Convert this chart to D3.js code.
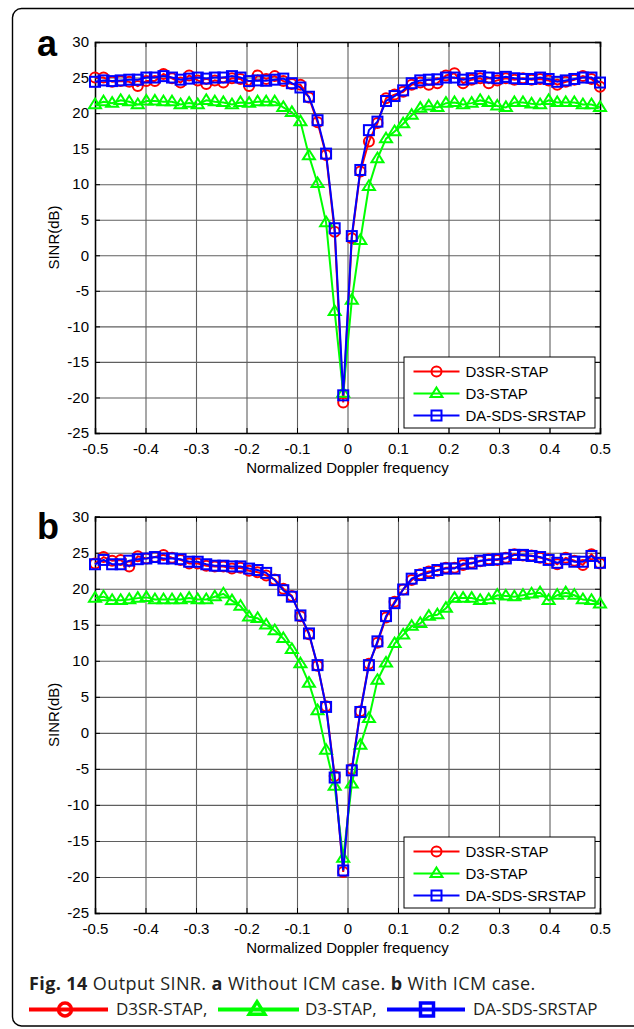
<!DOCTYPE html>
<html>
<head>
<meta charset="utf-8">
<script src="https://cdn.jsdelivr.net/npm/d3@7"></script>
<style>
  body { margin: 0; background: #fff; }
  svg { display: block; }
  .tick text { font-family: "Liberation Sans", Arial, sans-serif; font-size: 15px; fill: #000; }
</style>
</head>
<body>
<div id="chart"></div>
<script>
// normalized Doppler frequency grid (60 points from -0.5 to 0.5)
const freq = [-0.5, -0.4831, -0.4661, -0.4492, -0.4322, -0.4153, -0.3983, -0.3814, -0.3644, -0.3475,
  -0.3305, -0.3136, -0.2966, -0.2797, -0.2627, -0.2458, -0.2288, -0.2119, -0.1949, -0.178,
  -0.161, -0.1441, -0.1271, -0.1102, -0.0932, -0.0763, -0.0593, -0.0424, -0.0254, -0.0085,
  0.0085, 0.0254, 0.0424, 0.0593, 0.0763, 0.0932, 0.1102, 0.1271, 0.1441, 0.161,
  0.178, 0.1949, 0.2119, 0.2288, 0.2458, 0.2627, 0.2797, 0.2966, 0.3136, 0.3305,
  0.3475, 0.3644, 0.3814, 0.3983, 0.4153, 0.4322, 0.4492, 0.4661, 0.4831, 0.5];

// panel a: without ICM
const sinrA_d3sr = [25.0, 25.0, 24.4, 24.5, 24.4, 23.8, 24.5, 24.5, 25.5, 24.9,
  24.3, 25.3, 24.6, 24.1, 24.6, 24.3, 24.9, 24.8, 23.8, 25.3,
  24.8, 25.2, 24.5, 24.1, 24.0, 22.2, 18.7, 14.1, 3.3, -20.7,
  2.4, 11.8, 16.0, 18.6, 22.1, 22.6, 23.0, 24.0, 24.3, 24.0,
  24.2, 25.3, 25.6, 24.2, 24.7, 24.9, 24.2, 24.6, 24.9, 24.7,
  24.9, 24.7, 24.8, 24.6, 24.0, 24.4, 24.7, 25.2, 24.8, 23.7];
const sinrA_d3 = [21.2, 21.6, 21.4, 21.8, 21.6, 21.2, 21.7, 21.7, 21.6, 21.6,
  21.2, 21.4, 21.2, 21.8, 21.6, 21.5, 21.2, 21.5, 21.4, 21.6,
  21.6, 21.6, 20.8, 20.1, 18.8, 14.0, 10.1, 4.6, -7.9, -19.4,
  -6.3, 2.1, 9.7, 13.6, 16.4, 17.4, 18.5, 19.7, 20.7, 21.0,
  20.8, 21.4, 21.5, 21.2, 21.4, 21.8, 21.5, 21.0, 20.8, 21.5,
  21.5, 21.3, 21.2, 21.8, 21.5, 21.5, 21.5, 21.2, 21.2, 20.8];
const sinrA_dasds = [24.4, 24.6, 24.5, 24.6, 24.7, 24.7, 25.0, 25.0, 25.2, 25.0,
  24.7, 24.85, 25.0, 24.85, 25.0, 25.0, 25.2, 25.0, 24.5, 24.6,
  24.55, 24.7, 24.85, 24.2, 23.6, 22.3, 19.0, 14.3, 3.8, -19.7,
  2.7, 12.0, 17.6, 18.8, 21.7, 22.4, 23.2, 24.2, 24.6, 24.7,
  24.75, 25.0, 25.0, 24.7, 24.9, 25.2, 25.0, 24.9, 25.1, 24.9,
  24.8, 24.8, 25.0, 24.8, 24.4, 24.6, 24.8, 25.0, 25.0, 24.3];

// panel b: with ICM
const sinrB_d3sr = [23.5, 24.4, 23.9, 24.0, 23.1, 24.5, 24.2, 24.4, 24.7, 24.3,
  24.0, 23.5, 23.5, 23.2, 23.1, 23.1, 22.8, 22.9, 22.5, 22.3,
  21.85, 21.3, 20.0, 19.0, 16.2, 13.7, 9.3, 3.7, -6.0, -19.3,
  -5.0, 3.0, 9.6, 12.5, 16.0, 18.2, 19.9, 21.2, 22.0, 22.4,
  22.5, 22.9, 22.9, 23.3, 23.6, 23.8, 24.1, 24.0, 24.3, 24.8,
  24.6, 24.6, 24.3, 24.1, 23.4, 24.3, 23.9, 23.3, 24.8, 23.5];
const sinrB_d3 = [18.7, 18.9, 18.4, 18.4, 18.5, 18.7, 18.8, 18.5, 18.5, 18.5,
  18.5, 18.7, 18.5, 18.5, 18.9, 19.3, 18.35, 17.6, 16.1, 15.9,
  15.0, 14.2, 13.1, 11.6, 9.6, 6.9, 3.1, -2.4, -7.4, -17.4,
  -7.1, -1.7, 2.0, 7.3, 9.7, 12.4, 13.6, 14.8, 15.2, 16.2,
  16.4, 17.3, 18.7, 18.7, 18.7, 18.4, 18.5, 19.1, 19.0, 18.9,
  19.1, 19.3, 19.45, 18.4, 19.1, 19.45, 19.1, 18.5, 18.4, 17.9];
const sinrB_dasds = [23.4, 24.0, 23.4, 23.4, 23.9, 24.1, 24.2, 24.4, 24.2, 24.2,
  24.1, 23.75, 23.75, 23.4, 23.2, 23.2, 23.1, 23.1, 22.8, 22.6,
  22.2, 21.2, 19.8, 18.9, 16.3, 13.8, 9.4, 3.6, -6.2, -19.1,
  -5.2, 2.9, 9.4, 12.7, 16.2, 18.0, 19.9, 21.4, 21.9, 22.2,
  22.6, 22.8, 22.8, 23.5, 23.5, 23.9, 24.0, 24.1, 24.2, 24.7,
  24.7, 24.55, 24.4, 24.0, 23.6, 24.1, 23.75, 23.75, 24.55, 23.6];

const seriesNames = ['D3SR-STAP', 'D3-STAP', 'DA-SDS-SRSTAP'];
const seriesColors = ['#ff0000', '#00ff00', '#0000ff'];
const seriesMarkers = ['circle', 'triangle', 'square'];
const xTicks = [-0.5, -0.4, -0.3, -0.2, -0.1, 0, 0.1, 0.2, 0.3, 0.4, 0.5];
const yTicks = [-25, -20, -15, -10, -5, 0, 5, 10, 15, 20, 25, 30];

const svg = d3.select('#chart').append('svg')
  .attr('width', 634)
  .attr('height', 1029);

// outer frame
svg.append('rect')
  .attr('x', 12.5).attr('y', 8.5)
  .attr('width', 640).attr('height', 1017.5)
  .attr('rx', 9)
  .attr('fill', 'none')
  .attr('stroke', '#000')
  .attr('stroke-width', 1.4);

function marker(sel, type, color, s, sw) {
  if (type === 'circle') {
    sel.append('circle').attr('r', s * 0.5)
      .attr('fill', 'none').attr('stroke', color).attr('stroke-width', sw);
  } else if (type === 'square') {
    sel.append('rect').attr('x', -s / 2).attr('y', -s / 2)
      .attr('width', s).attr('height', s)
      .attr('fill', 'none').attr('stroke', color).attr('stroke-width', sw);
  } else {
    const t = s * 0.6;
    sel.append('path').attr('d', `M0,${-t}L${t},${t * 0.6}L${-t},${t * 0.6}Z`)
      .attr('fill', 'none').attr('stroke', color).attr('stroke-width', sw)
      .attr('stroke-linejoin', 'miter');
  }
}

function drawPanel(cfg) {
  const w = 505, h = cfg.height;
  const g = svg.append('g').attr('transform', `translate(95,${cfg.top})`);

  const x = d3.scaleLinear().domain([-0.5, 0.5]).range([0, w]);
  const y = d3.scaleLinear().domain([-25, 30]).range([h, 0]);

  // grid
  g.append('g')
    .attr('transform', `translate(0,${h})`)
    .call(d3.axisBottom(x).tickValues(xTicks).tickSize(-h).tickFormat(''))
    .call(a => a.select('.domain').remove())
    .call(a => a.selectAll('line').attr('stroke', '#5f5f5f').attr('stroke-width', 1.1));
  g.append('g')
    .call(d3.axisLeft(y).tickValues(yTicks).tickSize(-w).tickFormat(''))
    .call(a => a.select('.domain').remove())
    .call(a => a.selectAll('line').attr('stroke', '#5f5f5f').attr('stroke-width', 1.1));

  // axes with inward ticks
  g.append('g')
    .attr('transform', `translate(0,${h})`)
    .call(d3.axisBottom(x).tickValues(xTicks).tickSize(-5).tickPadding(10).tickFormat(d => String(d)));
  g.append('g')
    .call(d3.axisLeft(y).tickValues(yTicks).tickSize(-5).tickPadding(6).tickFormat(d => String(d)));
  g.append('g')
    .call(d3.axisTop(x).tickValues(xTicks).tickSize(-5).tickFormat(''));
  g.append('g')
    .attr('transform', `translate(${w},0)`)
    .call(d3.axisRight(y).tickValues(yTicks).tickSize(-5).tickFormat(''));
  g.selectAll('.domain').attr('stroke', '#000').attr('stroke-width', 1.5);
  g.selectAll('.tick line').filter(function () { return this.getAttribute('stroke') === 'currentColor'; })
    .attr('stroke', '#000');

  // series
  const line = d3.line().x((d, i) => x(freq[i])).y(d => y(d));
  cfg.series.forEach((vals, si) => {
    const sg = g.append('g');
    sg.append('path')
      .datum(vals)
      .attr('d', line)
      .attr('fill', 'none')
      .attr('stroke', seriesColors[si])
      .attr('stroke-width', 2);
    sg.selectAll('g.pt')
      .data(vals)
      .enter().append('g')
      .attr('class', 'pt')
      .attr('transform', (d, i) => `translate(${x(freq[i])},${y(d)})`)
      .each(function () { marker(d3.select(this), seriesMarkers[si], seriesColors[si], 10, 2); });
  });

  // legend
  const lx = w - 196, ly = h - 76;
  const lg = g.append('g').attr('transform', `translate(${lx},${ly})`);
  lg.append('rect').attr('width', 191).attr('height', 71)
    .attr('fill', '#fff').attr('stroke', '#000').attr('stroke-width', 1);
  seriesNames.forEach((name, i) => {
    const ry = 14.5 + 22 * i;
    lg.append('line').attr('x1', 9.5).attr('x2', 55.5).attr('y1', ry).attr('y2', ry)
      .attr('stroke', seriesColors[i]).attr('stroke-width', 2);
    marker(lg.append('g').attr('transform', `translate(32.5,${ry})`), seriesMarkers[i], seriesColors[i], 10, 2);
    lg.append('text').attr('x', 61.5).attr('y', ry).attr('dy', '0.35em')
      .attr('font-family', '"Liberation Sans", Arial, sans-serif')
      .attr('font-size', 15)
      .text(name);
  });

  // axis titles
  g.append('text')
    .attr('x', w / 2).attr('y', h + 40)
    .attr('text-anchor', 'middle')
    .attr('font-family', '"Liberation Sans", Arial, sans-serif')
    .attr('font-size', 15)
    .text('Normalized Doppler frequency');
  g.append('text')
    .attr('transform', `translate(-36,${h / 2}) rotate(-90)`)
    .attr('text-anchor', 'middle')
    .attr('font-family', '"Liberation Sans", Arial, sans-serif')
    .attr('font-size', 15)
    .text('SINR(dB)');

  // panel letter
  svg.append('text')
    .attr('x', 37).attr('y', cfg.letterY)
    .attr('font-family', '"Liberation Sans", Arial, sans-serif')
    .attr('font-weight', 'bold')
    .attr('font-size', 36)
    .text(cfg.letter);
}

drawPanel({ top: 42, height: 391, letter: 'a', letterY: 56,
  series: [sinrA_d3sr, sinrA_d3, sinrA_dasds] });
drawPanel({ top: 516.7, height: 396.3, letter: 'b', letterY: 539,
  series: [sinrB_d3sr, sinrB_d3, sinrB_dasds] });

// caption
const capFont = '"Open Sans", "Noto Sans", sans-serif';
const cap = svg.append('text')
  .attr('x', 29).attr('y', 990)
  .attr('font-family', capFont)
  .attr('font-size', 18)
  .attr('letter-spacing', 0.4)
  .attr('fill', '#231f20');
cap.append('tspan').attr('font-weight', 'bold').text('Fig. 14');
cap.append('tspan').text(' Output SINR. ');
cap.append('tspan').attr('font-weight', 'bold').text('a');
cap.append('tspan').text(' Without ICM case. ');
cap.append('tspan').attr('font-weight', 'bold').text('b');
cap.append('tspan').text(' With ICM case.');

// caption legend line
const capKeys = [
  { x1: 29, x2: 108, mx: 65, tx: 116, label: 'D3SR-STAP,' },
  { x1: 218, x2: 299, mx: 257, tx: 305, label: 'D3-STAP,' },
  { x1: 387, x2: 465, mx: 427, tx: 473, label: 'DA-SDS-SRSTAP' }
];
capKeys.forEach((k, i) => {
  svg.append('line').attr('x1', k.x1).attr('x2', k.x2).attr('y1', 1009.5).attr('y2', 1009.5)
    .attr('stroke', seriesColors[i]).attr('stroke-width', 4);
  marker(svg.append('g').attr('transform', `translate(${k.mx},1009.5)`), seriesMarkers[i], seriesColors[i], 13, 3.5);
  svg.append('text').attr('x', k.tx).attr('y', 1015)
    .attr('font-family', capFont)
    .attr('font-size', 17)
    .attr('fill', '#231f20')
    .text(k.label);
});
</script>
</body>
</html>
